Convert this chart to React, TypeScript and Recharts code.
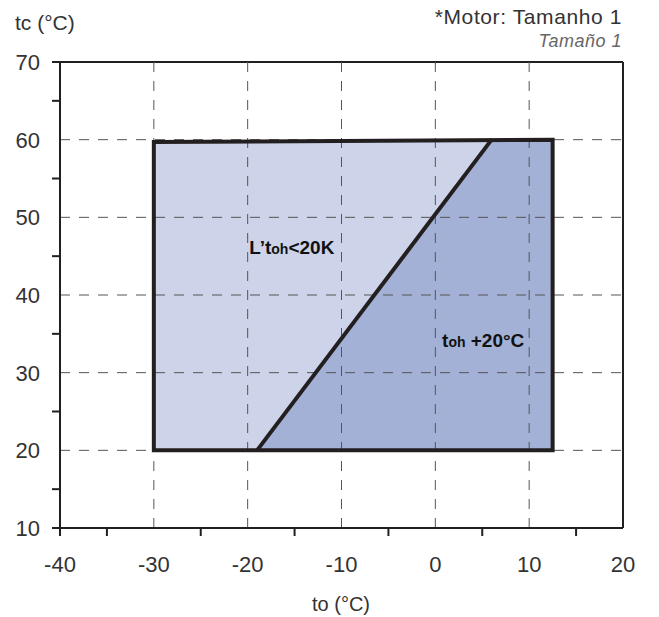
import { ComposedChart, Area, Scatter, XAxis, YAxis, ReferenceLine, ReferenceDot } from "recharts";

// axis ticks (labels only on the tens, short marks on the fives)
const xTicks = [-40, -35, -30, -25, -20, -15, -10, -5, 0, 5, 10, 15, 20];
const yTicks = [10, 15, 20, 25, 30, 35, 40, 45, 50, 55, 60, 65, 70];
const gridX = [-30, -20, -10, 0, 10];
const gridY = [20, 30, 40, 50, 60];

// operating envelope outline (closed) and the split line
const envelopeX = [-30, -30, 12.5, 12.5, -30];
const envelopeY = [20, 59.7, 60, 20, 20];
const splitX = [-19, 6];
const splitY = [20, 60];

// filled regions as [low, high] ranges at each x
const regionX = [-30, -19, 6, 12.5];
const lightLow = [20, 20, 60, null];
const lightHigh = [59.7, 59.8, 60, null];
const darkLow = [null, 20, 20, 20];
const darkHigh = [null, 20, 60, 60];

const FONT = "'Liberation Sans', Arial, sans-serif";
const INK = "#231f20";
const TEXT = "#333";
const LIGHT = "#cdd4e9";
const DARK = "#a3b1d6";

const regions = regionX.map((x, i) => ({
  x,
  light: lightLow[i] == null ? null : [lightLow[i], lightHigh[i]],
  dark: darkLow[i] == null ? null : [darkLow[i], darkHigh[i]],
}));
const envelope = envelopeX.map((x, i) => ({ x, y: envelopeY[i] }));
const split = splitX.map((x, i) => ({ x, y: splitY[i] }));

const XTick = ({ x, y, payload }: any) => {
  const v = payload.value;
  const mark = v % 10 !== 0 || v === -40;
  return (
    <g>
      {mark && <line x1={x} x2={x} y1={y} y2={y + 8} stroke={INK} strokeWidth={2} />}
      {v % 10 === 0 && (
        <text x={x} y={y + 44} textAnchor="middle" fontSize={22} fill={TEXT} fontFamily={FONT}>
          {v}
        </text>
      )}
    </g>
  );
};

const YTick = ({ x, y, payload }: any) => {
  const v = payload.value;
  const mark = v % 10 !== 0 || v === 10 || v === 70;
  return (
    <g>
      {mark && <line x1={x - 8} x2={x} y1={y} y2={y} stroke={INK} strokeWidth={2} />}
      {v % 10 === 0 && (
        <text x={x - 20} y={y} dy="0.36em" textAnchor="end" fontSize={22} fill={TEXT} fontFamily={FONT}>
          {v}
        </text>
      )}
    </g>
  );
};

const RegionLabel = ({ viewBox, parts }: any) => (
  <text x={viewBox.x} y={viewBox.y} dy="0.36em" textAnchor="middle" fontFamily={FONT} fontWeight="bold" fontSize={19} fill="#111">
    {parts.map((p: any, i: number) => (
      <tspan key={i} fontSize={p.sub ? 14 : 19}>
        {p.t}
      </tspan>
    ))}
  </text>
);

export default function App() {
  return (
    <div style={{ position: "absolute", left: 0, top: 0, width: 659, height: 617, background: "#fff" }}>
      <ComposedChart width={659} height={617} data={regions} margin={{ top: 62, right: 36, bottom: 0, left: 0 }}>
        <XAxis
          dataKey="x"
          type="number"
          domain={[-40, 20]}
          ticks={xTicks}
          interval={0}
          allowDataOverflow
          height={89}
          tickSize={0}
          tickMargin={0}
          tickLine={false}
          axisLine={{ stroke: INK, strokeWidth: 2 }}
          tick={<XTick />}
        />
        <YAxis
          type="number"
          domain={[10, 70]}
          ticks={yTicks}
          interval={0}
          allowDataOverflow
          width={60}
          tickSize={0}
          tickMargin={0}
          tickLine={false}
          axisLine={{ stroke: INK, strokeWidth: 2 }}
          tick={<YTick />}
        />
        <Area dataKey="light" type="linear" fill={LIGHT} fillOpacity={1} stroke="none" connectNulls={false} isAnimationActive={false} activeDot={false} />
        <Area dataKey="dark" type="linear" fill={DARK} fillOpacity={1} stroke="none" connectNulls={false} isAnimationActive={false} activeDot={false} />
        {gridX.map((v) => (
          <ReferenceLine key={"gx" + v} x={v} stroke="#555" strokeWidth={1} strokeDasharray="10 9" zIndex={450} />
        ))}
        {gridY.map((v) => (
          <ReferenceLine key={"gy" + v} y={v} stroke="#555" strokeWidth={1} strokeDasharray="10 9" zIndex={450} />
        ))}
        <ReferenceLine y={70} stroke={INK} strokeWidth={2} />
        <ReferenceLine x={20} stroke={INK} strokeWidth={2} />
        <Scatter
          data={envelope}
          dataKey="y"
          line={{ stroke: INK, strokeWidth: 4, strokeLinejoin: "miter", strokeLinecap: "square" }}
          shape={() => null}
          isAnimationActive={false}
        />
        <Scatter
          data={split}
          dataKey="y"
          line={{ stroke: INK, strokeWidth: 4 }}
          shape={() => null}
          isAnimationActive={false}
        />
        <ReferenceDot
          x={-15.3}
          y={46.2}
          r={0}
          fill="none"
          stroke="none"
          label={<RegionLabel parts={[{ t: "L\u2019t" }, { t: "oh", sub: true }, { t: "<20K" }]} />}
        />
        <ReferenceDot
          x={5.1}
          y={34.2}
          r={0}
          fill="none"
          stroke="none"
          label={<RegionLabel parts={[{ t: "t" }, { t: "oh", sub: true }, { t: " +20°C" }]} />}
        />
      </ComposedChart>
      <svg width={659} height={617} style={{ position: "absolute", left: 0, top: 0, pointerEvents: "none" }}>
        <text x={15} y={30} fontSize={21} fill={TEXT} fontFamily={FONT}>tc (°C)</text>
        <text x={622} y={24} textAnchor="end" fontSize={21} letterSpacing={0.6} fill={TEXT} fontFamily={FONT}>*Motor: Tamanho 1</text>
        <text x={622} y={47} textAnchor="end" fontSize={18} letterSpacing={0.5} fontStyle="italic" fill="#666" fontFamily={FONT}>Tamaño 1</text>
        <text x={341} y={611} textAnchor="middle" fontSize={20} fill={TEXT} fontFamily={FONT}>to (°C)</text>
      </svg>
    </div>
  );
}
